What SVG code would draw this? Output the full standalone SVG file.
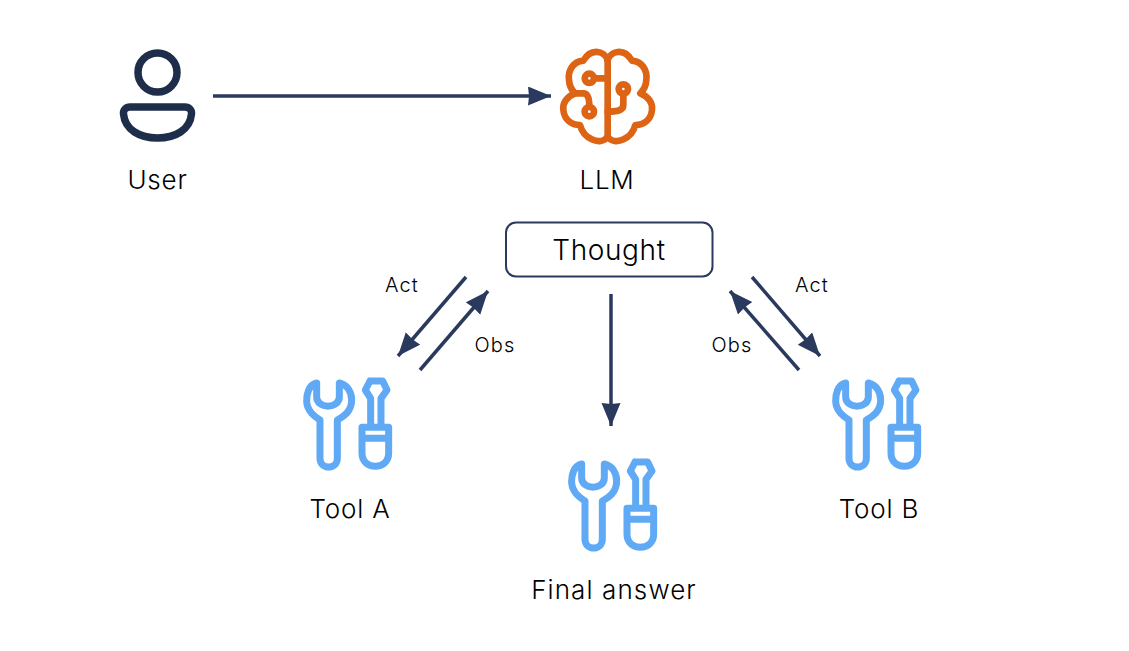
<svg xmlns="http://www.w3.org/2000/svg" width="1129" height="651" viewBox="0 0 1129 651">
<style>
text{font-family:"Inter","Liberation Sans",sans-serif;font-weight:300;fill:#000;text-anchor:middle}
.l{font-size:26px;letter-spacing:.8px}
.s{font-size:20px;letter-spacing:1.1px}
.c line{stroke:#2a3a5e;stroke-width:3.5;marker-end:url(#a)}
.tool{fill:none;stroke:#60a9f4;stroke-width:21;stroke-linejoin:round;stroke-linecap:round}
.brain{fill:none;stroke:#dc6414;stroke-width:20;stroke-linejoin:round;stroke-linecap:round}
.user{fill:none;stroke:#1d2d4a;stroke-width:7.5;stroke-linejoin:round}
</style>
<defs>
<marker id="a" markerUnits="userSpaceOnUse" markerWidth="26" markerHeight="20" refX="23" refY="9.500" orient="auto"><path d="M0 0L23 9.500L0 19L1 9.500Z" fill="#2a3a5e"/></marker>
<g id="t" class="tool" transform="scale(.3333)">
<path d="M80 39C55 45 49 75 50 95C52 125 75 140 90 150V265C90 300 142 300 142 265V150C160 140 185 125 185 90C185 70 175 45 148 39V80C148 118 80 118 80 80Z"/>
<path d="M240 33H278L291 60L273 85V172M240 33L226 60L242 85V172M216 172H296V250C296 302 216 302 216 250ZM216 205H296"/>
</g>
</defs>
<g id="connectors" class="c">
<line x1="213" y1="96" x2="551" y2="96"/>
<line x1="466" y1="277" x2="398" y2="356"/>
<line x1="420" y1="370" x2="488" y2="291"/>
<line x1="611" y1="294" x2="611" y2="426"/>
<line x1="752" y1="277" x2="820" y2="356"/>
<line x1="799" y1="370" x2="730" y2="291"/>
</g>
<g id="user">
<circle class="user" cx="157.500" cy="72.500" r="19.500"/>
<path class="user" d="M130 107H185C189 107 192 110 191.500 114C190 130 175 138 157.500 138C140 138 125 130 123.500 114C123 110 126 107 130 107Z"/>
<text class="l" x="157.500" y="189">User</text>
</g>
<g id="llm">
<g class="brain" transform="translate(555 40) scale(.3333)">
<path d="M158 60C150 35 110 20 85 62C55 65 38 90 42 120C43 140 52 152 60 160C35 170 22 190 25 210C28 240 50 255 75 255C85 295 135 320 158 290"/>
<path d="M158 60C166 35 206 20 231 62C261 65 278 90 274 120C273 140 264 152 256 160C281 170 294 190 291 210C288 240 266 255 241 255C231 295 181 320 158 290"/>
<path d="M158 60V290"/>
<circle cx="103" cy="115" r="14"/><circle cx="103" cy="215" r="14"/><circle cx="205" cy="147" r="14"/>
<path d="M118 115H158M60 160H85C97 160 103 170 103 200M205 162V195C205 208 195 215 158 215"/>
</g>
<text class="l" x="607" y="189">LLM</text>
</g>
<g id="thought">
<rect x="506" y="222.500" width="206.500" height="54" rx="10" fill="#fff" stroke="#2a3a5e" stroke-width="2"/>
<text class="l" style="font-size:28px;letter-spacing:.6px" x="609" y="260">Thought</text>
</g>
<g id="tool-a"><use href="#t" transform="translate(290 370)"/><text class="l" x="350" y="518">Tool A</text></g>
<g id="tool-b"><use href="#t" transform="translate(819 370)"/><text class="l" x="879" y="518">Tool B</text></g>
<g id="final"><use href="#t" transform="translate(555 451)"/><text class="l" style="letter-spacing:1.1px" x="614" y="599">Final answer</text></g>
<g id="labels">
<text class="s" x="402" y="292">Act</text>
<text class="s" x="495" y="352">Obs</text>
<text class="s" x="812" y="292">Act</text>
<text class="s" x="732" y="352">Obs</text>
</g>
</svg>
